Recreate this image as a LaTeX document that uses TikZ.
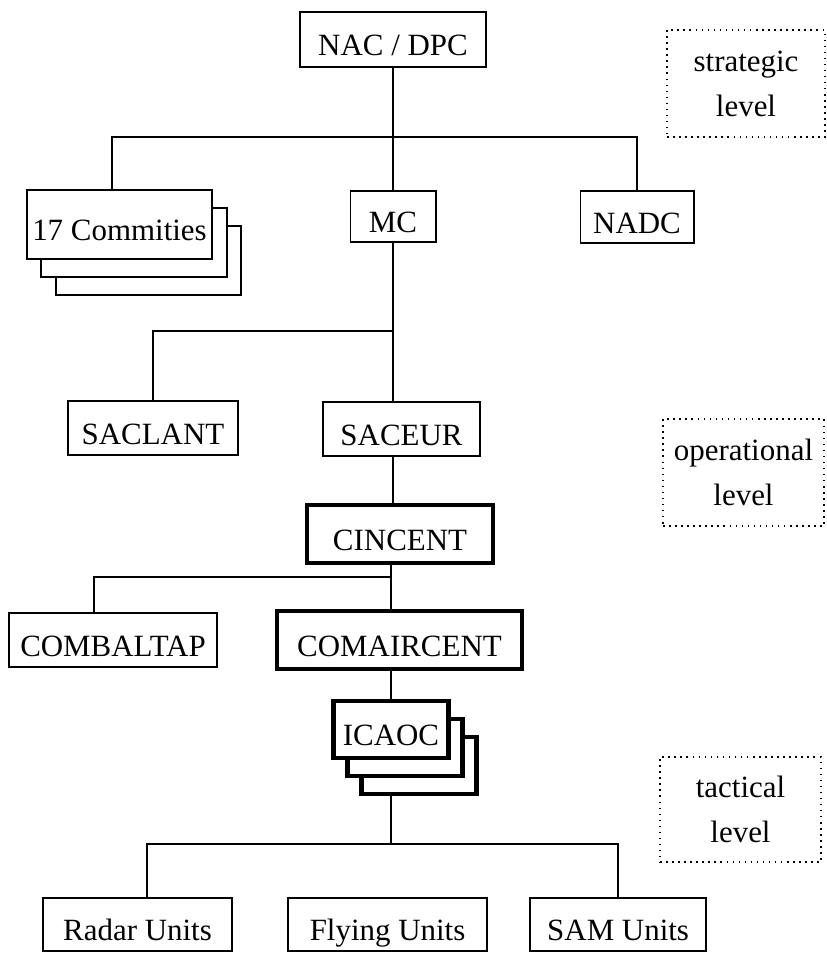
\documentclass[tikz,border=0pt]{standalone}
\usepackage{fontspec}
\setmainfont{Liberation Serif}
\usetikzlibrary{positioning, backgrounds}

\tikzset{
    unit/.style={draw, fill=white, line width=1.4pt, inner sep=0pt, outer sep=0pt, text height=23pt, text depth=0pt, font=\fontsize{22}{26}\selectfont},
    command/.style={unit, line width=3.2pt},
    level/.style={draw, dash pattern=on 1.1pt off 3.2pt, line width=1.1pt, align=center, inner sep=0pt, font=\fontsize{22}{32}\selectfont},
    link/.style={line width=1.3pt},
}

\begin{document}
\begin{tikzpicture}[x=0.025cm, y=-0.025cm]
    \useasboundingbox (0,0) rectangle (827,953);

    % strategic level
    \node[unit, minimum width=4.625cm, minimum height=1.375cm] (nac) at (393,39.5) {NAC / DPC};
    \node[unit, minimum width=4.625cm, minimum height=1.725cm] (comm) at (119.5,224.5) {17 Commities};
    \node[unit, minimum width=2.125cm, minimum height=1.275cm] (mc) at (393,216.5) {MC};
    \node[unit, minimum width=2.825cm, minimum height=1.3cm] (nadc) at (637,217) {NADC};

    % operational level
    \node[unit, minimum width=4.25cm, minimum height=1.35cm] (saclant) at (153,428) {SACLANT};
    \node[unit, minimum width=3.925cm, minimum height=1.35cm] (saceur) at (401.5,429) {SACEUR};
    \node[command, minimum width=4.65cm, minimum height=1.45cm] (cincent) at (400,534) {CINCENT};
    \node[unit, minimum width=5.2cm, minimum height=1.35cm] (combaltap) at (113,640) {COMBALTAP};
    \node[command, minimum width=6.125cm, minimum height=1.45cm] (comaircent) at (399.5,640) {COMAIRCENT};

    % tactical level
    \node[command, minimum width=2.875cm, minimum height=1.425cm] (icaoc) at (391,729.5) {ICAOC};
    \node[unit, minimum width=4.725cm, minimum height=1.325cm] (radar) at (137.5,924.5) {Radar Units};
    \node[unit, minimum width=4.975cm, minimum height=1.325cm, right = 1.4cm of radar] (flying) {Flying Units};
    \node[unit, minimum width=4.4cm, minimum height=1.325cm, right = 1.075cm of flying] (sam) {SAM Units};

    % level labels
    \node[level, minimum width=3.95cm, minimum height=2.675cm] (strategic) at (746,83.5) {strategic\\level};
    \node[level, minimum width=4.025cm, minimum height=2.675cm] (operational) at (743.5,472.5) {operational\\level};
    \node[level, minimum width=4.025cm, minimum height=2.625cm] (tactical) at (740.5,809.5) {tactical\\level};

    % stacked copies
    \begin{scope}[on background layer]
        \foreach \s in {2,1} {
            \draw[unit] ([shift={(\s*14.5,\s*18)}]comm.north west) rectangle ([shift={(\s*14.5,\s*18)}]comm.south east);
            \draw[command] ([shift={(\s*14,\s*18)}]icaoc.north west) rectangle ([shift={(\s*14,\s*18)}]icaoc.south east);
        }
    \end{scope}

    % connectors
    \coordinate (top) at (393,137);
    \coordinate (mid) at (393,331);
    \coordinate (low) at (391,577);
    \coordinate (base) at (391,844);

    \draw[link] (nac) -- (mc);
    \draw[link] ([xshift=-0.19cm]comm.north) |- (top) -| (nadc.north);
    \draw[link] (mc) -- (saceur.north -| mc);
    \draw[link] (saclant.north) |- (mid);
    \draw[link] (saceur.south -| mc) -- (cincent.north -| mc);
    \draw[link] (cincent.south -| icaoc) -- (comaircent.north -| icaoc);
    \draw[link] ([xshift=-0.475cm]combaltap.north) |- (low);
    \draw[link] (comaircent.south -| icaoc) -- (icaoc);
    \draw[link] ([yshift=-0.9cm]icaoc.south) -- (base);
    \draw[link] ([xshift=0.24cm]radar.north) |- (base) -| (sam.north);
\end{tikzpicture}
\end{document}
